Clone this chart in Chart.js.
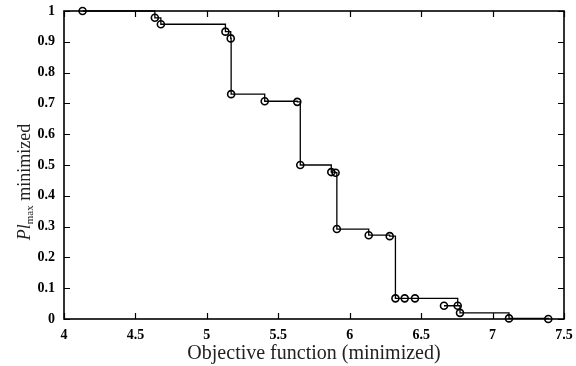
<!DOCTYPE html>
<html><head><meta charset="utf-8">
<script src="https://cdn.jsdelivr.net/npm/chart.js@4"></script>
<style>html,body{margin:0;padding:0;background:#fff}canvas{display:block}</style>
</head><body>
<canvas id="c" width="576" height="366"></canvas>
<script>
// Pareto front: objective function vs Pl_max (order as plotted)
const objective = [4.13, 4.636, 4.678, 5.13, 5.167, 5.17, 5.405, 5.633, 5.654, 5.871, 5.901, 5.91, 6.133, 6.28, 6.32, 6.385, 6.457, 6.756, 6.66, 6.772, 7.115, 7.39];
const plMax     = [1.0, 0.978, 0.957, 0.933, 0.911, 0.730, 0.707, 0.705, 0.500, 0.477, 0.475, 0.292, 0.272, 0.269, 0.067, 0.067, 0.067, 0.043, 0.043, 0.020, 0.002, 0.0];
const xTicks = [4, 4.5, 5, 5.5, 6, 6.5, 7, 7.5];
const yTicks = [0, 0.1, 0.2, 0.3, 0.4, 0.5, 0.6, 0.7, 0.8, 0.9, 1];
const xTitle = 'Objective function (minimized)';

const pts = objective.map((x, i) => ({x: x, y: plMax[i]}));

const framePlugin = {
  id: 'frame',
  afterDraw(chart) {
    const {ctx, chartArea: a, scales: {x, y}} = chart;
    ctx.save();
    ctx.strokeStyle = '#000';
    ctx.lineWidth = 1.6;
    ctx.strokeRect(a.left, a.top, a.right - a.left, a.bottom - a.top);
    ctx.lineWidth = 1.2;
    const L = 6;
    ctx.beginPath();
    xTicks.forEach(v => {
      const px = Math.round(x.getPixelForValue(v)) + 0.5;
      ctx.moveTo(px, a.bottom); ctx.lineTo(px, a.bottom - L);
      ctx.moveTo(px, a.top); ctx.lineTo(px, a.top + L);
    });
    yTicks.forEach(v => {
      const py = Math.round(y.getPixelForValue(v)) + 0.5;
      ctx.moveTo(a.left, py); ctx.lineTo(a.left + L, py);
      ctx.moveTo(a.right, py); ctx.lineTo(a.right - L, py);
    });
    ctx.stroke();
    // x title
    ctx.fillStyle = '#222';
    ctx.font = '20px "Liberation Serif"';
    ctx.textAlign = 'center';
    ctx.textBaseline = 'middle';
    ctx.fillText(xTitle, (a.left + a.right) / 2, 354);
    // y title with subscript
    ctx.translate(24, 182);
    ctx.rotate(-Math.PI / 2);
    const p1 = 'Pl', p2 = 'max', p3 = ' minimized';
    ctx.textAlign = 'left';
    ctx.textBaseline = 'alphabetic';
    const f1 = 'italic 18px "Liberation Serif"', f2 = '11px "Liberation Serif"', f3 = '18px "Liberation Serif"';
    ctx.font = f1; const w1 = ctx.measureText(p1).width;
    ctx.font = f2; const w2 = ctx.measureText(p2).width;
    ctx.font = f3; const w3 = ctx.measureText(p3).width;
    let sx = -(w1 + w2 + w3) / 2;
    const base = 6;
    ctx.font = f1; ctx.fillText(p1, sx, base); sx += w1;
    ctx.font = f2; ctx.fillText(p2, sx, base + 3); sx += w2;
    ctx.font = f3; ctx.fillText(p3, sx, base);
    ctx.restore();
  }
};

new Chart(document.getElementById('c'), {
  type: 'line',
  data: {
    datasets: [{
      data: pts,
      stepped: true,
      borderColor: '#000',
      borderWidth: 1.3,
      pointRadius: 3.5,
      pointBorderWidth: 1.6,
      pointBorderColor: '#000',
      pointBackgroundColor: 'rgba(255,255,255,0)',
      fill: false,
      clip: false
    }]
  },
  options: {
    responsive: false,
    devicePixelRatio: 1,
    animation: false,
    layout: {padding: {left: 0, right: 12, top: 11, bottom: 0}},
    plugins: {legend: {display: false}, tooltip: {enabled: false}},
    scales: {
      x: {
        type: 'linear', min: 4, max: 7.5,
        afterBuildTicks: s => { s.ticks = xTicks.map(v => ({value: v})); },
        afterFit: s => { s.height = 47; s.paddingLeft = 0; s.paddingRight = 0; },
        grid: {display: false, drawTicks: false},
        border: {display: false},
        ticks: {color: '#000', padding: 8, maxRotation: 0, autoSkip: false,
          font: {family: '"Liberation Serif"', size: 14, weight: 'bold'},
          callback: v => String(v)}
      },
      y: {
        type: 'linear', min: 0, max: 1,
        afterBuildTicks: s => { s.ticks = yTicks.map(v => ({value: v})); },
        afterFit: s => { s.width = 64; s.paddingTop = 0; s.paddingBottom = 0; },
        grid: {display: false, drawTicks: false},
        border: {display: false},
        ticks: {color: '#000', padding: 9, autoSkip: false,
          font: {family: '"Liberation Serif"', size: 14, weight: 'bold'},
          callback: v => String(v)}
      }
    }
  },
  plugins: [framePlugin]
});
</script>
</body></html>
